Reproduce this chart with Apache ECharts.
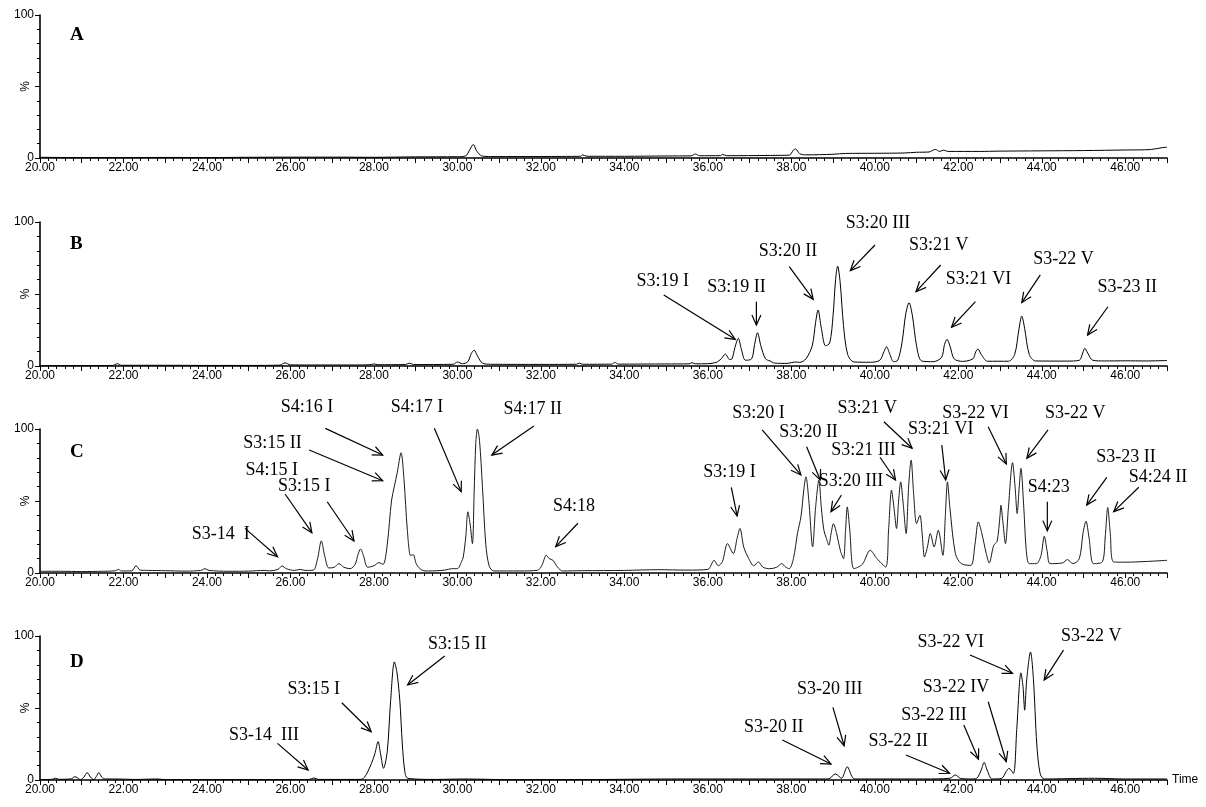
<!DOCTYPE html>
<html>
<head>
<meta charset="utf-8">
<script src="https://cdn.jsdelivr.net/npm/echarts/dist/echarts.min.js"></script>
<style>
  html, body { margin: 0; padding: 0; background: #fff; }
  #chart { width: 1206px; height: 807px; }
</style>
</head>
<body>
<div id="chart"></div>
<script>
// Panel letters
const panelNames = ['A', 'B', 'C', 'D'];

// Chromatogram traces: [retention time (min), relative intensity (%)]
const traceA = [
  [20,0.5],[21,0.3],[22,0.3],[23,0.4],[24,0.3],[25,0.5],[26,0.6],[27,0.6],[28,0.5],[29,0.8],[30,0.9],
  [30.2,1.5],[30.3,6],[30.38,9.5],[30.46,5],[30.58,1.5],[30.8,1.0],[31.5,1.0],[32.5,1.1],[32.95,1.2],
  [33.0,2.2],[33.1,1.2],[34,1.2],[35,1.4],[35.6,1.5],[35.7,2.8],[35.8,1.6],[36.3,1.6],[36.35,2.5],
  [36.45,1.6],[37.5,1.8],[37.95,2.0],[38.05,5.5],[38.1,6.3],[38.2,3],[38.35,2.2],[39,2.6],[39.3,3.2],
  [40,3.3],[40.7,3.5],[41.0,4.0],[41.3,4.2],[41.45,6.0],[41.55,4.6],[41.65,5.5],[41.75,4.6],[42.5,4.6],
  [43,4.8],[44,5.0],[45,5.2],[46,5.6],[46.6,5.9],[46.9,7.3],[47,7.5]
];
const traceB = [
  [20,0.3],[21,0.3],[21.75,0.4],[21.85,1.6],[21.95,0.5],[23,0.5],[24,0.4],[25,0.4],[25.75,0.6],
  [25.87,2.2],[26.0,0.8],[26.5,0.7],[27.5,0.7],[27.9,0.9],[28.0,1.4],[28.1,0.9],[28.75,1.0],[28.85,2.0],
  [28.95,1.0],[29.9,1.2],[30.0,2.8],[30.12,1.6],[30.25,3],[30.33,8.5],[30.4,11],[30.48,7],[30.6,2],
  [30.8,1.2],[32,1.1],[32.85,1.2],[32.92,2.0],[33.0,1.2],[33.7,1.3],[33.77,2.5],[33.85,1.3],[35,1.4],
  [35.55,1.5],[35.62,2.3],[35.7,1.5],[36.0,1.6],[36.2,2.5],[36.32,5],[36.42,8.3],[36.52,4.5],[36.58,5],
  [36.65,13],[36.73,19.2],[36.8,12],[36.9,4],[37.05,5],[37.12,15],[37.19,23.1],[37.27,14],[37.38,5],
  [37.49,3.5],[37.6,2.0],[37.9,1.8],[38.09,2.8],[38.2,2.5],[38.35,5],[38.5,14],[38.58,30],[38.64,38.9],
  [38.72,26],[38.82,14],[38.92,16],[39.0,35],[39.06,60],[39.11,69.4],[39.17,58],[39.25,28],[39.35,8],
  [39.5,2.8],[39.9,2.6],[40.12,4],[40.22,10],[40.28,13.4],[40.35,9],[40.45,3],[40.55,4],[40.65,16],
  [40.74,36],[40.82,44],[40.9,35],[41.0,14],[41.12,3.5],[41.4,3.0],[41.6,6],[41.67,15],[41.73,18.5],
  [41.8,14],[41.9,5],[42.1,3.2],[42.35,5],[42.42,10],[42.47,11.8],[42.55,8],[42.7,3.3],[43.2,3.3],
  [43.35,8],[43.45,25],[43.52,34.7],[43.59,26],[43.7,8],[43.85,3.5],[44.6,3.4],[44.9,4],[44.98,9],
  [45.03,12.3],[45.1,9],[45.22,4],[45.5,3.5],[46,3.6],[46.5,3.5],[47,3.8]
];
const traceC = [
  [20,1.2],[20.5,1.2],[21,1.0],[21.5,1.2],[21.8,1.5],[21.88,2.5],[21.95,1.4],[22.2,1.5],[22.3,5.1],
  [22.4,2],[22.6,1.8],[23,1.6],[23.5,1.3],[23.85,1.8],[23.95,3.0],[24.05,1.8],[24.5,1.2],[25,1.3],
  [25.37,1.8],[25.5,1.5],[25.7,2.5],[25.8,4.9],[25.9,3],[26.1,1.8],[26.24,2.5],[26.35,1.8],[26.55,2],
  [26.65,10],[26.74,22.3],[26.82,12],[26.92,3.5],[27.05,4],[27.16,6.5],[27.28,4],[27.43,3],[27.55,6],
  [27.62,13],[27.68,16.7],[27.75,12],[27.85,4],[28.0,5],[28.12,7.2],[28.22,6],[28.32,20],[28.42,50],
  [28.49,60.3],[28.56,70],[28.65,83.5],[28.72,65],[28.8,30],[28.88,12],[28.94,12.8],[29.02,6],
  [29.15,2],[29.31,1.4],[29.7,2.0],[29.86,3],[30.0,3],[30.1,8],[30.14,11.1],[30.2,25],[30.25,42.5],
  [30.3,35],[30.36,20.4],[30.4,55],[30.44,90],[30.48,100],[30.53,92],[30.6,60],[30.68,20],[30.76,5],
  [30.87,1.4],[31.5,1.4],[31.92,1.9],[32.02,5],[32.13,12.3],[32.2,10],[32.29,8.8],[32.4,4],[32.52,1.4],
  [33,1.6],[34,1.8],[34.8,2.3],[35.5,2.0],[36.0,2.5],[36.15,8.8],[36.25,5],[36.35,8],[36.47,20.4],
  [36.61,13.5],[36.7,24],[36.77,30.9],[36.86,18],[36.98,10],[37.1,5],[37.21,7.7],[37.32,4],[37.49,3],
  [37.65,4],[37.77,6.5],[37.87,4],[37.95,3],[38.05,10],[38.15,28],[38.23,39],[38.3,58],[38.35,66.8],
  [38.42,50],[38.51,18.1],[38.58,45],[38.66,64.5],[38.72,45],[38.78,29.7],[38.84,24],[38.9,19.3],
  [38.95,27],[39.01,34.3],[39.08,28],[39.18,15],[39.25,10],[39.3,30],[39.34,45.9],[39.4,30],[39.5,3],
  [39.7,6],[39.89,15.8],[40.05,10],[40.26,4.2],[40.33,30],[40.4,57.5],[40.46,45],[40.52,30.9],
  [40.57,50],[40.62,63.3],[40.68,48],[40.75,27.4],[40.81,60],[40.87,78.4],[40.93,55],[41.0,34.3],
  [41.08,40.1],[41.14,25],[41.19,11.1],[41.26,18],[41.33,27.4],[41.42,18.1],[41.52,29.7],[41.63,12.3],
  [41.69,40],[41.74,63.3],[41.8,45],[41.93,13.5],[42.07,6.5],[42.3,5.3],[42.4,20],[42.48,35.5],
  [42.56,28],[42.67,13.5],[42.74,7],[42.85,19.3],[42.93,22],[43.0,40],[43.02,47.1],[43.07,35],
  [43.13,20.4],[43.2,45],[43.3,76.6],[43.36,60],[43.41,41.3],[43.46,60],[43.5,72.6],[43.57,45],
  [43.63,15],[43.7,6.5],[43.87,6.5],[43.98,12],[44.06,25.5],[44.13,15],[44.2,6.5],[44.5,7],[44.61,9.3],
  [44.75,6.5],[44.9,10],[44.99,28],[45.06,36],[45.13,25],[45.24,6.5],[45.45,7.7],[45.52,25],
  [45.58,45.5],[45.64,28],[45.72,7.7],[46,7.5],[46.5,8],[47,8.8]
];
const traceD = [
  [20,0.3],[20.3,0.5],[20.37,1.2],[20.45,0.5],[20.75,0.8],[20.83,2.3],[20.9,1.5],[20.97,0.2],[21.05,2],
  [21.13,5.1],[21.21,2],[21.29,0.2],[21.35,2.5],[21.41,5.1],[21.48,2],[21.56,0.7],[21.79,0.7],[22.3,0.4],
  [22.8,0.7],[23,0.3],[24,0.3],[25,0.3],[26,0.3],[26.45,0.4],[26.56,1.4],[26.67,0.4],[27.5,0.4],
  [27.71,0.5],[27.82,4],[27.94,11.5],[28.02,18],[28.1,26.6],[28.16,18],[28.23,8.1],[28.32,20],[28.4,55],
  [28.49,82],[28.55,75],[28.62,55.4],[28.68,25],[28.74,6],[28.81,1.2],[29.5,0.4],[30.14,0.7],[30.69,0.5],
  [31,0.3],[33,0.3],[35.13,0.7],[36.52,0.7],[38.46,0.7],[38.88,0.7],[39.06,4.2],[39.2,1.2],[39.34,9.2],
  [39.45,2.5],[39.52,0.7],[41.19,0.7],[41.8,1.2],[41.93,3.5],[42.05,1.2],[42.3,0.7],[42.44,1.2],
  [42.55,7],[42.62,12.2],[42.69,7],[42.81,0.7],[43.04,1.2],[43.15,6],[43.21,8.1],[43.32,4.6],[43.4,35],
  [43.5,74.4],[43.55,65],[43.59,48.5],[43.64,70],[43.73,88.9],[43.8,70],[43.88,25],[43.96,4.6],
  [44.06,0.7],[45.26,1.2],[46,0.7],[47,0.7]
];

// Peak labels: text and the point the arrow tip lands on [time, %]
const peaksB = [
  { text: 'S3:19 I',   at: [36.656, 18.5] },
  { text: 'S3:19 II',  at: [37.163, 28.5] },
  { text: 'S3:20 II',  at: [38.524, 46.3] },
  { text: 'S3:20 III', at: [39.413, 66.2] },
  { text: 'S3:21 V',   at: [40.987, 51.6] },
  { text: 'S3:21 VI',  at: [41.838, 26.9] },
  { text: 'S3-22 V',   at: [43.521, 44.0] },
  { text: 'S3-23 II',  at: [45.096, 21.5] }
];
const peaksC = [
  { text: 'S3-14  I',  at: [25.69, 11.3] },
  { text: 'S4:15 I',   at: [26.514, 28.0] },
  { text: 'S3:15 I',   at: [27.523, 22.2] },
  { text: 'S3:15 II',  at: [28.21, 64.1] },
  { text: 'S4:16 I',   at: [28.21, 81.9] },
  { text: 'S4:17 I',   at: [30.09, 56.5] },
  { text: 'S4:17 II',  at: [30.824, 81.9] },
  { text: 'S4:18',     at: [32.355, 18.3] },
  { text: 'S3:19 I',   at: [36.701, 39.6] },
  { text: 'S3:20 I',   at: [38.229, 68.1] },
  { text: 'S3:20 II',  at: [38.692, 64.6] },
  { text: 'S3:20 III', at: [38.951, 42.6] },
  { text: 'S3:21 III', at: [40.496, 64.6] },
  { text: 'S3:21 V',   at: [40.893, 86.6] },
  { text: 'S3:21 VI',  at: [41.698, 64.6] },
  { text: 'S3-22 VI',  at: [43.15, 75.7] },
  { text: 'S3-22 V',   at: [43.642, 79.7] },
  { text: 'S4:23',     at: [44.133, 29.4] },
  { text: 'S3-23 II',  at: [45.076, 47.2] },
  { text: 'S4:24 II',  at: [45.723, 42.6] }
];
const peaksD = [
  { text: 'S3-14  III', at: [26.423, 6.9] },
  { text: 'S3:15 I',    at: [27.935, 33.5] },
  { text: 'S3:15 II',   at: [28.807, 66.0] },
  { text: 'S3-20 II',   at: [38.951, 11.1] },
  { text: 'S3-20 III',  at: [39.265, 23.8] },
  { text: 'S3-22 II',   at: [41.792, 4.7] },
  { text: 'S3-22 III',  at: [42.484, 14.4] },
  { text: 'S3-22 IV',   at: [43.15, 12.7] },
  { text: 'S3-22 VI',   at: [43.299, 74.1] },
  { text: 'S3-22 V',    at: [44.058, 69.4] }
];

// Arrow layout in pixels: [tail dx, tail dy from tip, label dx, label dy from tail]
const arrowsB = [
  [-71.5,-44.3,-1,-13.3],[0,-23.3,-20,-14.7],[-23.9,-32.6,-1.3,-15],[24.7,-25.7,3,-22],
  [24.7,-26.7,-2,-20],[23.9,-25.6,3.1,-22.4],[18.5,-27.7,23.2,-15.7],[20.4,-28.3,19.3,-19.4]
];
const arrowsC = [
  [-32.5,-28.4,-24.2,6],[-26.8,-38.7,-13.4,-23.3],[-26.8,-39.3,-23,-15],[-73.5,-30.7,-36.7,-6.7],
  [-57.4,-26.7,-18.3,-21],[-26.8,-63.4,-17.3,-21],[42.1,-29,-1.2,-16.7],[22.2,-23.4,-3.9,-16.6],
  [-5.8,-28.7,-1.9,-14.6],[-38.7,-45,-3.8,-16.7],[-13.6,-33.3,2,-14],[10.4,-16.7,9.6,-13.3],
  [-15.5,-22.7,-16.6,-6.6],[-28.2,-26.6,-16.6,-13.4],[-3.9,-35,-1.1,-15.7],[-18.1,-37.3,-12.8,-13.4],
  [21.2,-28.3,27.1,-16.7],[0,-29,1.5,-14.4],[20.1,-27.7,19.3,-20],[25.1,-24.4,19.3,-10]
];
const arrowsD = [
  [-30.6,-26.7,-13.5,-8.3],[-29.4,-29,-28,-13.4],[37.1,-29,12.6,-12],[-48.7,-24,-8.5,-12.7],
  [-11.2,-38.4,-3.1,-18],[-43.7,-18.3,-7.7,-13.3],[-14.7,-34.3,-29.7,-10],[-18.1,-60,-32.1,-14.4],
  [-42.5,-18.3,-19.3,-12.3],[19.3,-30,27.8,-13.3]
];

const traces = [traceA, traceB, traceC, traceD];
const peakSets = [null, peaksB, peaksC, peaksD];
const arrowSets = [null, arrowsB, arrowsC, arrowsD];

// Panel geometry
const gridTops = [15, 222, 429, 636];
const gridHeights = [143, 144, 144, 144];
const letterTops = [26, 235, 443, 653];

const AX = '#000';
const tickFont = '"Liberation Sans", Arial, sans-serif';
const labelFont = '"Liberation Serif", "Times New Roman", serif';

function arrowRenderer(peaks, layout) {
  return function (params, api) {
    const i = params.dataIndex;
    const tip = api.coord([api.value(0), api.value(1)]);
    const [dx, dy, tx, ty] = layout[i];
    const tail = [tip[0] + dx, tip[1] + dy];
    const ang = Math.atan2(tip[1] - tail[1], tip[0] - tail[0]);
    const L = 11, spread = 0.42;
    const p1 = [tip[0] - L * Math.cos(ang - spread), tip[1] - L * Math.sin(ang - spread)];
    const p2 = [tip[0] - L * Math.cos(ang + spread), tip[1] - L * Math.sin(ang + spread)];
    return {
      type: 'group',
      children: [
        { type: 'line', shape: { x1: tail[0], y1: tail[1], x2: tip[0], y2: tip[1] },
          style: { stroke: '#000', lineWidth: 1.2 } },
        { type: 'polyline', shape: { points: [p1, tip, p2] },
          style: { stroke: '#000', lineWidth: 1.2, fill: null } },
        { type: 'text', x: tail[0] + tx, y: tail[1] + ty,
          style: { text: peaks[i].text, fill: '#000', font: '18px ' + labelFont,
                   align: 'center', verticalAlign: 'middle' } }
      ]
    };
  };
}

const option = {
  backgroundColor: '#fff',
  animation: false,
  title: panelNames.map((n, i) => ({
    text: n, left: 70, top: letterTops[i], padding: 0,
    textStyle: { fontFamily: labelFont, fontWeight: 'bold', fontSize: 19, color: '#000' }
  })),
  grid: gridTops.map((t, i) => ({
    left: 40, right: 39, top: t, height: gridHeights[i],
    containLabel: false, outerBoundsMode: 'none'
  })),
  xAxis: panelNames.map((n, i) => ({
    type: 'value', gridIndex: i, min: 20, max: 47, interval: 1,
    name: i === 3 ? 'Time' : '',
    nameLocation: 'end', nameGap: 5, nameMoveOverlap: false,
    nameTextStyle: { fontFamily: tickFont, fontSize: 12, color: '#000', verticalAlign: 'middle' },
    axisLine: { onZero: false, lineStyle: { color: AX, width: 1.6 } },
    axisTick: { show: true, length: 5, lineStyle: { color: AX, width: 1 } },
    minorTick: { show: true, splitNumber: 5, length: 3, lineStyle: { color: AX, width: 1 } },
    splitLine: { show: false },
    axisLabel: {
      margin: 4, color: '#000', fontFamily: tickFont, fontSize: 12,
      formatter: v => (Math.round(v) % 2 === 0 ? v.toFixed(2) : '')
    }
  })),
  yAxis: panelNames.map((n, i) => ({
    type: 'value', gridIndex: i, min: 0, max: 100, interval: 50,
    name: '%', nameLocation: 'middle', nameRotate: 90, nameGap: 8, nameMoveOverlap: false,
    nameTextStyle: { fontFamily: tickFont, fontSize: 12, color: '#000' },
    axisLine: { show: true, lineStyle: { color: AX, width: 1.6 } },
    axisTick: { show: true, length: 5, lineStyle: { color: AX, width: 1 } },
    minorTick: { show: true, splitNumber: 5, length: 3, lineStyle: { color: AX, width: 1 } },
    splitLine: { show: false },
    axisLabel: {
      margin: 6, color: '#000', fontFamily: tickFont, fontSize: 12,
      formatter: v => (v === 50 ? '' : String(v))
    }
  })),
  series: []
};

traces.forEach((tr, i) => {
  option.series.push({
    type: 'line', xAxisIndex: i, yAxisIndex: i, data: tr,
    showSymbol: false, smooth: 0.3, z: 3,
    lineStyle: { color: i === 2 ? '#1a1a1a' : '#000', width: 1 }
  });
  if (peakSets[i]) {
    option.series.push({
      type: 'custom', xAxisIndex: i, yAxisIndex: i, clip: false, silent: true, z: 5,
      data: peakSets[i].map(p => p.at),
      encode: { x: 0, y: 1 },
      renderItem: arrowRenderer(peakSets[i], arrowSets[i])
    });
  }
});

const chart = echarts.init(document.getElementById('chart'), null, { renderer: 'canvas' });
chart.setOption(option);
</script>
</body>
</html>
